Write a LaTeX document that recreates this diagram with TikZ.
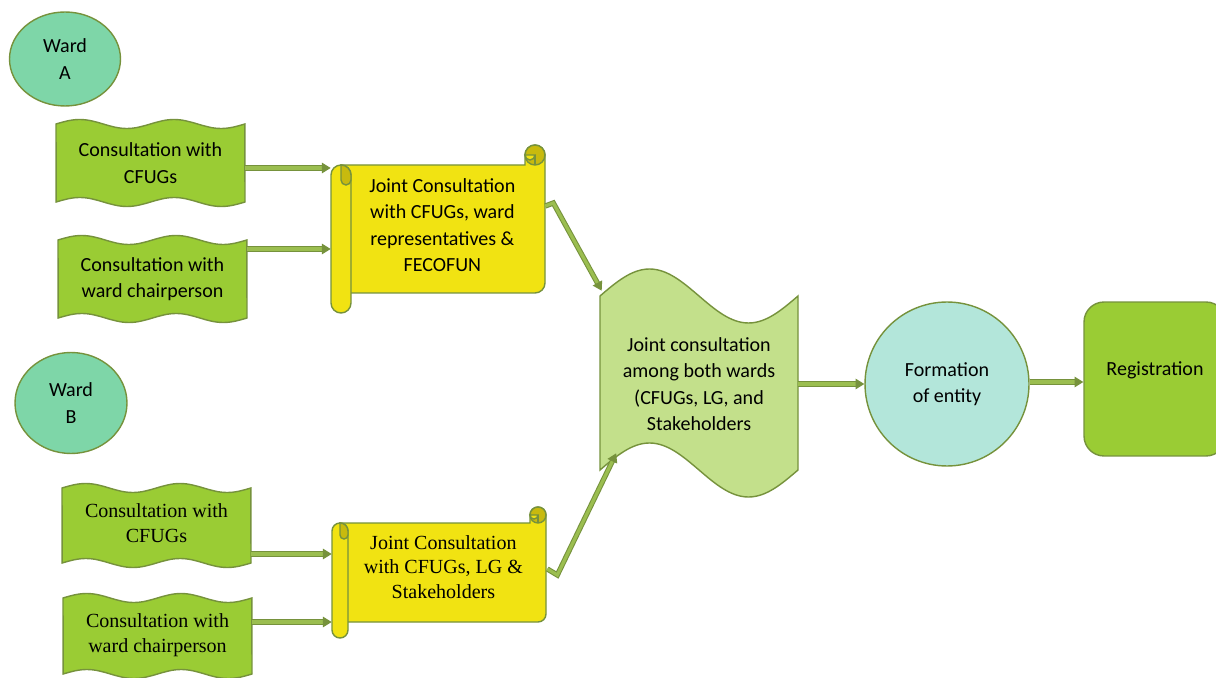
\documentclass[tikz,border=0pt]{standalone}
\usepackage{fontspec}
\setmainfont{Carlito}
\newfontfamily\timesfont{Liberation Serif}
\usepackage{tikz}
\usetikzlibrary{
  arrows.meta,
  shapes.geometric,
  positioning,
  calc
}
\definecolor{edgegreen}{RGB}{118,146,60}
\definecolor{wardfill}{RGB}{126,214,168}
\definecolor{consultfill}{RGB}{154,204,52}
\definecolor{scrollfill}{RGB}{241,227,18}
\definecolor{curlfill}{RGB}{200,186,14}
\definecolor{jointfill}{RGB}{195,224,139}
\definecolor{entityfill}{RGB}{179,230,218}
\definecolor{arrowfill}{RGB}{155,190,80}
\tikzset{
  ward/.style={
    ellipse, draw=edgegreen, line width=0.8pt, fill=wardfill,
    inner sep=0pt, align=center, font=\fontsize{11.4}{15}\selectfont
  },
  consultshape/.style={draw=edgegreen, line width=0.8pt, fill=consultfill},
  scrollshape/.style={draw=edgegreen, line width=0.8pt, fill=scrollfill},
  curlshape/.style={draw=edgegreen, line width=0.8pt, fill=curlfill},
  jointshape/.style={draw=edgegreen, line width=0.8pt, fill=jointfill},
  txt/.style={
    rectangle, inner sep=0pt, align=center,
    font=\fontsize{11.4}{15}\selectfont
  },
  seriftxt/.style={
    rectangle, inner sep=0pt, align=center,
    font=\timesfont\fontsize{11.4}{14}\selectfont
  },
  roundbox/.style={
    rectangle, rounded corners=0.4cm, draw=edgegreen, line width=0.8pt,
    fill=consultfill, align=center, font=\fontsize{11.4}{15}\selectfont
  },
  arrow/.style={
    draw=edgegreen, double=arrowfill, line width=0.6pt, double distance=1.8pt,
    -{Triangle[length=5pt, width=6pt]}
  }
}

\begin{document}
\begin{tikzpicture}[x=0.02cm, y=-0.02cm]

\path[use as bounding box, fill=white] (0,0) rectangle (1216,678);

% Ward A
\node[ward, minimum width=2.22cm, minimum height=1.88cm] (wardA) at (65,59) {Ward\\A};

% Ward A consultations
\filldraw[consultshape] (56,124) sin ++(23.6,-4.5) cos ++(23.6,4.5) sin ++(23.6,4.5) cos ++(23.6,-4.5)
  sin ++(23.6,-4.5) cos ++(23.6,4.5) sin ++(23.6,4.5) cos ++(23.6,-4.5) -- (245,202)
  sin ++(-23.6,4.5) cos ++(-23.6,-4.5) sin ++(-23.6,-4.5) cos ++(-23.6,4.5)
  sin ++(-23.6,4.5) cos ++(-23.6,-4.5) sin ++(-23.6,-4.5) cos ++(-23.6,4.5) -- cycle;
\node[txt, minimum width=3.78cm, minimum height=1.76cm] (c1) at (150.5,163)
  {Consultation with\\CFUGs};

\filldraw[consultshape] (58,240) sin ++(23.6,-4.5) cos ++(23.6,4.5) sin ++(23.6,4.5) cos ++(23.6,-4.5)
  sin ++(23.6,-4.5) cos ++(23.6,4.5) sin ++(23.6,4.5) cos ++(23.6,-4.5) -- (247,318)
  sin ++(-23.6,4.5) cos ++(-23.6,-4.5) sin ++(-23.6,-4.5) cos ++(-23.6,4.5)
  sin ++(-23.6,4.5) cos ++(-23.6,-4.5) sin ++(-23.6,-4.5) cos ++(-23.6,4.5) -- cycle;
\node[txt, minimum width=3.78cm, minimum height=1.76cm] (c2) at (152.5,279)
  {Consultation with\\ward chairperson};

% Ward A joint consultation (scroll)
\filldraw[scrollshape] (341,165) -- (525,165) -- (525,155) arc[start angle=180, end angle=360, radius=10]
  -- (545,283) arc[start angle=0, end angle=90, radius=10] -- (341,293) -- cycle;
\filldraw[curlshape] (535,155) circle[radius=10];
\filldraw[scrollshape] (535,155) arc[start angle=0, end angle=180, radius=5] -- cycle;
\draw[edgegreen, line width=0.8pt] (535,155) -- (535,165);
\filldraw[scrollshape] (331,175) arc[start angle=180, end angle=360, radius=10]
  -- (351,303) arc[start angle=0, end angle=180, radius=10] -- cycle;
\filldraw[curlshape] (341,165) arc[start angle=270, end angle=360, radius=10]
  -- (351,180) arc[start angle=0, end angle=180, radius=5] -- cycle;
\node[txt, minimum width=4.28cm, minimum height=3.36cm] (j1) at (438,225)
  {\hspace*{5pt}Joint Consultation\\\hspace*{5pt}with CFUGs, ward\\\hspace*{5pt}representatives \&\\\hspace*{5pt}FECOFUN};

% Ward B
\node[ward, minimum width=2.24cm, minimum height=2.02cm] (wardB) at (71,403) {Ward\\B};

% Ward B consultations
\filldraw[consultshape] (62,488) sin ++(23.6,-4.5) cos ++(23.6,4.5) sin ++(23.6,4.5) cos ++(23.6,-4.5)
  sin ++(23.6,-4.5) cos ++(23.6,4.5) sin ++(23.6,4.5) cos ++(23.6,-4.5) -- (251,563)
  sin ++(-23.6,4.5) cos ++(-23.6,-4.5) sin ++(-23.6,-4.5) cos ++(-23.6,4.5)
  sin ++(-23.6,4.5) cos ++(-23.6,-4.5) sin ++(-23.6,-4.5) cos ++(-23.6,4.5) -- cycle;
\node[seriftxt, minimum width=3.78cm, minimum height=1.7cm] (c3) at (156.5,523)
  {Consultation with\\CFUGs};

\filldraw[consultshape] (63,598) sin ++(23.6,-4.5) cos ++(23.6,4.5) sin ++(23.6,4.5) cos ++(23.6,-4.5)
  sin ++(23.6,-4.5) cos ++(23.6,4.5) sin ++(23.6,4.5) cos ++(23.6,-4.5) -- (252,674)
  sin ++(-23.6,4.5) cos ++(-23.6,-4.5) sin ++(-23.6,-4.5) cos ++(-23.6,4.5)
  sin ++(-23.6,4.5) cos ++(-23.6,-4.5) sin ++(-23.6,-4.5) cos ++(-23.6,4.5) -- cycle;
\node[seriftxt, minimum width=3.78cm, minimum height=1.62cm] (c4) at (157.5,635)
  {Consultation with\\ward chairperson};

% Ward B joint consultation (scroll)
\filldraw[scrollshape] (340,523) -- (530,523) -- (530,515) arc[start angle=180, end angle=360, radius=8]
  -- (546,614) arc[start angle=0, end angle=90, radius=8] -- (340,622) -- cycle;
\filldraw[curlshape] (538,515) circle[radius=8];
\filldraw[scrollshape] (538,515) arc[start angle=0, end angle=180, radius=4] -- cycle;
\draw[edgegreen, line width=0.8pt] (538,515) -- (538,523);
\filldraw[scrollshape] (332,531) arc[start angle=180, end angle=360, radius=8]
  -- (348,630) arc[start angle=0, end angle=180, radius=8] -- cycle;
\filldraw[curlshape] (340,523) arc[start angle=270, end angle=360, radius=8]
  -- (348,535) arc[start angle=0, end angle=180, radius=4] -- cycle;
\node[seriftxt, minimum width=4.28cm, minimum height=2.62cm] (j2) at (439,567)
  {\hspace*{5pt}Joint Consultation\\\hspace*{5pt}with CFUGs, LG \&\\\hspace*{5pt}Stakeholders};

% Joint consultation of both wards (wave)
\filldraw[jointshape] (600,296) sin ++(49.5,-27) cos ++(49.5,27) sin ++(49.5,27) cos ++(49.5,-27)
  -- (798,470) sin ++(-49.5,27) cos ++(-49.5,-27) sin ++(-49.5,-27) cos ++(-49.5,27) -- cycle;
\node[txt, minimum width=3.96cm, minimum height=4.56cm] (m) at (699,384)
  {Joint consultation\\among both wards\\(CFUGs, LG, and\\Stakeholders};

% Formation and registration
\node[circle, draw=edgegreen, line width=0.8pt, fill=entityfill, minimum size=3.28cm,
      inner sep=0pt, align=center, font=\fontsize{11.4}{15}\selectfont] (f) at (947,384)
  {Formation\\of entity};
\node[roundbox, minimum width=2.84cm, minimum height=3.08cm, text depth=11.4pt] (reg) at (1155,379)
  {Registration};

% Arrows
\draw[arrow] ($(c1.east)+(0,5)$) -- ($(c1.east -| j1.west)+(0,5)$);
\draw[arrow] ($(c2.east)+(0,-30)$) -- ($(c2.east -| j1.west)+(0,-30)$);
\draw[arrow] ($(c3.east)+(0,31)$) -- ($(c3.east -| j2.west)+(0,31)$);
\draw[arrow] ($(c4.east)+(0,-13)$) -- ($(c4.east -| j2.west)+(0,-13)$);
\draw[arrow] ($(j1.east)+(0,-19)$) -- ($(j1.east)+(8,-22)$) -- ($(m.north west)+(2,21)$);
\draw[arrow] ($(j2.east)+(1,2)$) -- ($(j2.east)+(11,8)$) -- ($(m.south west)+(16.5,-45)$);
\draw[arrow] (m.east |- f.west) -- (f.west);
\draw[arrow] ($(f.east)+(0,-2)$) -- ($(f.east -| reg.west)+(0,-2)$);

\end{tikzpicture}
\end{document}
